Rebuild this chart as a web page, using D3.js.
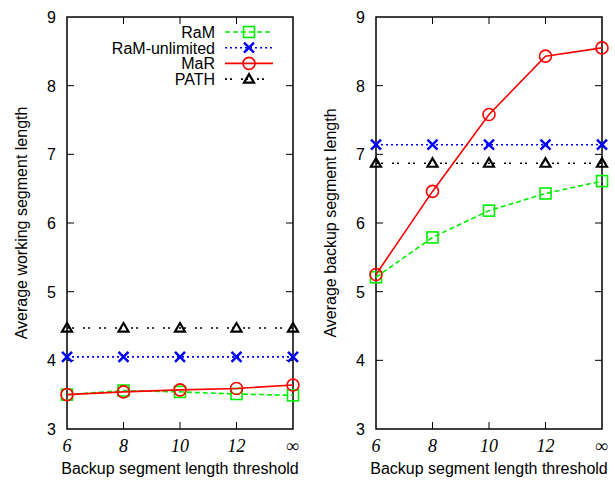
<html lang="en">
  <head>
    <meta charset="utf-8">
    <title>Segment length</title>
    <script src="https://d3js.org/d3.v7.min.js"></script>
    <style>
      body { margin: 0; background: #fff; }
      text { font-family: "Liberation Sans", Arial, sans-serif; }
    </style>
  </head>
  <body>
    <script type="text/javascript">
      var w = 615;
      var h = 480;

      // x categories (thresholds)
      var thresholds = ["6", "8", "10", "12", "\u221e"];
      var yTicks = [3, 4, 5, 6, 7, 8, 9];
      var seriesNames = ["RaM", "RaM-unlimited", "MaR", "PATH"];

      // working segment length (left panel)
      var workRaM  = [3.50, 3.56, 3.54, 3.51, 3.49];
      var workRaMu = [4.05, 4.05, 4.05, 4.05, 4.05];
      var workMaR  = [3.50, 3.54, 3.57, 3.59, 3.64];
      var workPATH = [4.47, 4.47, 4.47, 4.47, 4.47];

      // backup segment length (right panel)
      var backRaM  = [5.21, 5.79, 6.18, 6.43, 6.61];
      var backRaMu = [7.14, 7.14, 7.14, 7.14, 7.14];
      var backMaR  = [5.25, 6.46, 7.58, 8.43, 8.55];
      var backPATH = [6.87, 6.87, 6.87, 6.87, 6.87];

      var styles = {
        "RaM":           {color: "#00ee00", dash: "5,3",      marker: "square"},
        "RaM-unlimited": {color: "#0000ff", dash: "2,3",      marker: "cross"},
        "MaR":           {color: "#ff0000", dash: null,       marker: "circle"},
        "PATH":          {color: "#000000", dash: "2,3,2,9",  marker: "triangle"}
      };

      var svg = d3.select("body").append("svg")
          .attr("width", w)
          .attr("height", h);

      var plotTop = 17, plotBottom = 429;

      function drawMarker(g, type, x, y, color) {
        if (type === "square") {
          g.append("rect").attr("x", x - 5.5).attr("y", y - 5.5)
            .attr("width", 11).attr("height", 11)
            .attr("fill", "none").attr("stroke", color).attr("stroke-width", 1.6);
        } else if (type === "circle") {
          g.append("circle").attr("cx", x).attr("cy", y).attr("r", 6)
            .attr("fill", "none").attr("stroke", color).attr("stroke-width", 1.6);
        } else if (type === "cross") {
          g.append("path")
            .attr("d", `M${x-5},${y-5}L${x+5},${y+5}M${x-5},${y+5}L${x+5},${y-5}`)
            .attr("stroke", color).attr("stroke-width", 2.5).attr("fill", "none");
        } else if (type === "triangle") {
          g.append("path")
            .attr("d", `M${x},${y-5}L${x+5},${y+3.5}L${x-5},${y+3.5}Z`)
            .attr("stroke", color).attr("stroke-width", 2.2).attr("fill", "none");
        }
      }

      function panel(left, right, data, ylabel, legend) {
        var x = d3.scalePoint().domain(thresholds).range([left, right]).padding(0);
        var y = d3.scaleLinear().domain([3, 9]).range([plotBottom, plotTop]);
        var g = svg.append("g");

        // frame
        g.append("rect").attr("x", left).attr("y", plotTop)
          .attr("width", right - left).attr("height", plotBottom - plotTop)
          .attr("fill", "none").attr("stroke", "#000").attr("stroke-width", 1.5);

        // y ticks (mirrored inside)
        yTicks.forEach(function(t) {
          if (t > 3 && t < 9) {
            g.append("line").attr("x1", left).attr("x2", left + 7)
              .attr("y1", y(t)).attr("y2", y(t)).attr("stroke", "#000");
            g.append("line").attr("x1", right - 7).attr("x2", right)
              .attr("y1", y(t)).attr("y2", y(t)).attr("stroke", "#000");
          }
          g.append("text").attr("x", left - 11).attr("y", y(t) + 6)
            .attr("text-anchor", "end").attr("font-size", 16).text(t);
        });

        // x ticks
        thresholds.forEach(function(t, i) {
          if (i > 0 && i < thresholds.length - 1) {
            g.append("line").attr("x1", x(t)).attr("x2", x(t))
              .attr("y1", plotBottom).attr("y2", plotBottom - 7).attr("stroke", "#000");
            g.append("line").attr("x1", x(t)).attr("x2", x(t))
              .attr("y1", plotTop).attr("y2", plotTop + 7).attr("stroke", "#000");
          }
          g.append("text").attr("x", x(t)).attr("y", 452)
            .attr("text-anchor", "middle")
            .style("font-family", "'Liberation Serif', 'Times New Roman', serif")
            .style("font-style", "italic").attr("font-size", 18).text(t);
        });

        g.append("text").attr("x", (left + right) / 2).attr("y", 474)
          .attr("text-anchor", "middle").attr("font-size", 16)
          .text("Backup segment length threshold");

        g.append("text")
          .attr("transform", `translate(${left - 40},${(plotTop + plotBottom) / 2}) rotate(-90)`)
          .attr("text-anchor", "middle").attr("font-size", 16).text(ylabel);

        var line = d3.line()
          .x(function(d, i) { return x(thresholds[i]); })
          .y(function(d) { return y(d); });

        // draw in order: PATH, RaM-unlimited, RaM, MaR
        [3, 1, 0, 2].forEach(function(k) {
          var name = seriesNames[k], s = styles[name], vals = data[k];
          g.append("path").attr("d", line(vals))
            .attr("fill", "none").attr("stroke", s.color)
            .attr("stroke-width", 1.6)
            .attr("stroke-dasharray", s.dash);
          vals.forEach(function(v, i) {
            drawMarker(g, s.marker, x(thresholds[i]), y(v), s.color);
          });
        });

        if (legend) {
          seriesNames.forEach(function(name, k) {
            var s = styles[name], ly = 32 + k * 15.7;
            g.append("text").attr("x", 215).attr("y", ly + 6)
              .attr("text-anchor", "end").attr("font-size", 16).text(name);
            g.append("line").attr("x1", 225).attr("x2", 273)
              .attr("y1", ly).attr("y2", ly)
              .attr("stroke", s.color).attr("stroke-width", 1.6)
              .attr("stroke-dasharray", s.dash);
            drawMarker(g, s.marker, 249, ly, s.color);
          });
        }
      }

      panel(67, 293, [workRaM, workRaMu, workMaR, workPATH], "Average working segment length", true);
      panel(376, 602, [backRaM, backRaMu, backMaR, backPATH], "Average backup segment length", false);
    </script>
  </body>
</html>
